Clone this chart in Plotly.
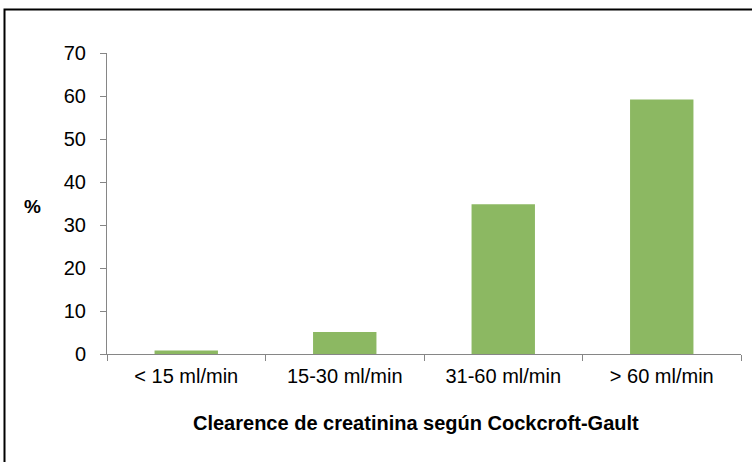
import plotly.graph_objects as go

categories = ["< 15 ml/min", "15-30 ml/min", "31-60 ml/min", "> 60 ml/min"]
values = [0.8, 5.1, 34.8, 59.2]
y_ticks = [0, 10, 20, 30, 40, 50, 60, 70]

axis_grey = "#868686"
font = "Liberation Sans, Arial, sans-serif"

fig = go.Figure(
    go.Bar(x=categories, y=values, marker=dict(color="#8CB862", line=dict(width=0)))
)

fig.update_layout(
    width=752,
    height=462,
    margin=dict(l=107, r=11, t=53, b=108),
    plot_bgcolor="white",
    paper_bgcolor="white",
    bargap=0.6,
    showlegend=False,
    font=dict(family=font, size=20, color="black"),
)

fig.update_xaxes(
    showline=True,
    linecolor=axis_grey,
    linewidth=1,
    ticks="outside",
    tickson="boundaries",
    ticklen=6,
    tickcolor=axis_grey,
    tickfont=dict(size=20),
    ticklabelstandoff=4,
)
fig.update_yaxes(
    range=[0, 70],
    tickvals=y_ticks,
    showline=True,
    linecolor=axis_grey,
    linewidth=1,
    ticks="outside",
    ticklen=6,
    tickcolor=axis_grey,
    showgrid=False,
    zeroline=False,
    tickfont=dict(size=20),
    ticklabelstandoff=10,
)

# axis titles as annotations so they sit where the original puts them
fig.add_annotation(
    text="<b>%</b>", xref="paper", yref="paper", x=-0.118, y=0.49,
    xanchor="center", yanchor="middle", showarrow=False, font=dict(size=19),
)
fig.add_annotation(
    text="<b>Clearence de creatinina según Cockcroft-Gault</b>",
    xref="paper", yref="paper", x=0.487, y=-0.229,
    xanchor="center", yanchor="middle", showarrow=False, font=dict(size=20),
)

# outer frame (only left and top edges visible in the crop)
fig.add_shape(
    type="rect", xref="paper", yref="paper",
    x0=(4.5 - 107) / 634, x1=(800 - 107) / 634,
    y0=(354 - 600) / 301, y1=(354 - 9.5) / 301,
    line=dict(color="black", width=2), layer="below",
)

# the page body has a default 8px margin; drop it so the figure fills the window
fig.write_html(
    "out.html",
    config={"displayModeBar": False},
    post_script="document.body.style.margin='0';",
)
